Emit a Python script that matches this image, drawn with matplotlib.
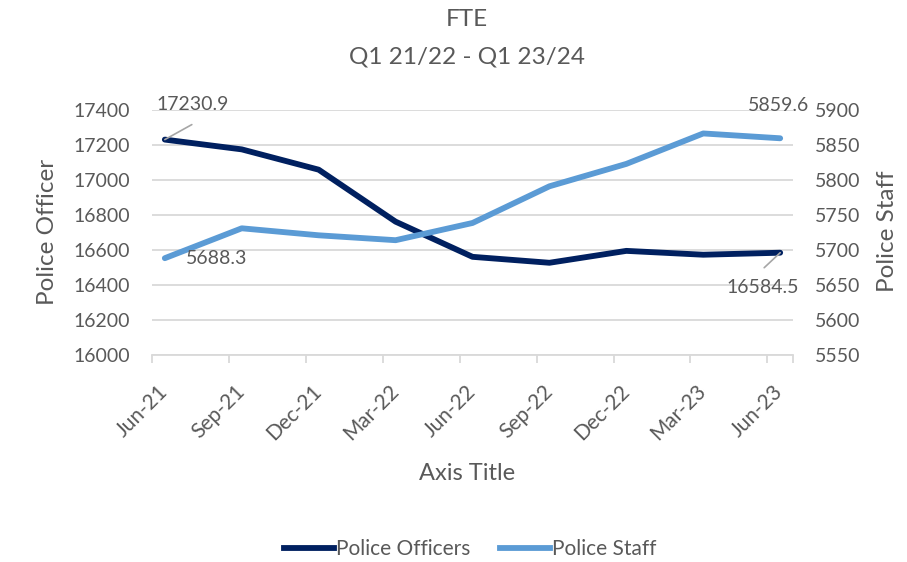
import matplotlib
matplotlib.use("Agg")
import matplotlib.pyplot as plt
from matplotlib.lines import Line2D

plt.rcParams['font.family'] = ['Lato', 'DejaVu Sans']

# Quarter-end FTE figures
quarters = ['Jun-21', 'Sep-21', 'Dec-21', 'Mar-22', 'Jun-22',
            'Sep-22', 'Dec-22', 'Mar-23', 'Jun-23']
months_from_start = [0, 3, 6, 9, 12, 15, 18, 21, 24]
officers = [17230.9, 17175, 17059, 16762, 16561, 16527, 16595, 16573, 16584.5]
staff = [5688.3, 5731, 5721, 5714, 5738.6, 5791, 5823, 5866.5, 5859.6]

left_ticks = [16000, 16200, 16400, 16600, 16800, 17000, 17200, 17400]
right_ticks = [5550, 5600, 5650, 5700, 5750, 5800, 5850, 5900]

OFFICER_COLOR = '#002060'
STAFF_COLOR = '#5B9BD5'
TEXT_COLOR = '#595959'
GRID_COLOR = '#D9D9D9'
FS = 14

W, H = 907, 562
fig = plt.figure(figsize=(W / 100, H / 100), dpi=100)
ax = fig.add_axes([152 / W, 1 - 355 / H, (793 - 152) / W, (355 - 110) / H])
ax2 = ax.twinx()

# monthly date axis: each point sits in the middle of its month slot
xpos = [m + 0.5 for m in months_from_start]

ax.plot(xpos, officers, color=OFFICER_COLOR, lw=4.2, solid_capstyle='round',
        solid_joinstyle='round', zorder=3)
ax2.plot(xpos, staff, color=STAFF_COLOR, lw=4.2, solid_capstyle='round',
         solid_joinstyle='round', zorder=3)

ax.set_xlim(0, 25)
ax.set_ylim(left_ticks[0], left_ticks[-1])
ax2.set_ylim(right_ticks[0], right_ticks[-1])

ax.set_yticks(left_ticks)
ax2.set_yticks(right_ticks)
ax.yaxis.grid(True, color=GRID_COLOR, lw=1.3)
ax.set_axisbelow(True)

for s in ['left', 'right', 'top']:
    ax.spines[s].set_visible(False)
for s in ax2.spines.values():
    s.set_visible(False)
ax.spines['bottom'].set_color(GRID_COLOR)
ax.spines['bottom'].set_linewidth(1.3)

ax.set_xticks(xpos, quarters, rotation=45, ha='right', va='center',
              rotation_mode='anchor')
ax.set_xticks(months_from_start + [25], minor=True)
ax.tick_params(axis='x', which='major', length=0, pad=24, labelsize=15,
               labelcolor=TEXT_COLOR)
ax.tick_params(axis='x', which='minor', length=6, width=1.3, color=GRID_COLOR)
ax.tick_params(axis='y', length=0, pad=16, labelsize=FS, labelcolor=TEXT_COLOR)
ax2.tick_params(axis='y', length=0, pad=16, labelsize=FS, labelcolor=TEXT_COLOR)

# data labels on first and last points
lead = dict(arrowstyle='-', color='#A6A6A6', lw=1.2, shrinkA=0, shrinkB=0)
ax.annotate('', xy=(xpos[0], officers[0]), xytext=(27, 15),
            textcoords='offset pixels', arrowprops=lead)
ax.annotate(f'{officers[0]:.1f}', xy=(xpos[0], officers[0]), xytext=(28, 35),
            textcoords='offset pixels', ha='center', va='center',
            fontsize=FS, color=TEXT_COLOR)
ax.annotate('', xy=(xpos[-1], officers[-1]), xytext=(-16, -15),
            textcoords='offset pixels', arrowprops=lead)
ax.annotate(f'{officers[-1]:.1f}', xy=(xpos[-1], officers[-1]), xytext=(-17, -35),
            textcoords='offset pixels', ha='center', va='center',
            fontsize=FS, color=TEXT_COLOR)
ax2.annotate(f'{staff[0]:.1f}', xy=(xpos[0], staff[0]), xytext=(21, 0),
             textcoords='offset pixels', ha='left', va='center',
             fontsize=FS, color=TEXT_COLOR)
ax2.annotate(f'{staff[-1]:.1f}', xy=(xpos[-1], staff[-1]), xytext=(-2, 33),
             textcoords='offset pixels', ha='center', va='center',
             fontsize=FS, color=TEXT_COLOR)

# titles
fig.text(467 / W, 1 - 20 / H, 'FTE', ha='center', va='center',
         fontsize=17.5, color=TEXT_COLOR)
fig.text(467 / W, 1 - 57 / H, 'Q1 21/22 - Q1 23/24', ha='center', va='center',
         fontsize=17.5, color=TEXT_COLOR)
fig.text(48 / W, 1 - 232 / H, 'Police Officer', rotation=90, ha='center',
         va='center', fontsize=17.5, color=TEXT_COLOR)
fig.text(887 / W, 1 - 231 / H, 'Police Staff', rotation=90, ha='center',
         va='center', fontsize=17.5, color=TEXT_COLOR)
fig.text(467 / W, 1 - 473 / H, 'Axis Title', ha='center', va='center',
         fontsize=17, color=TEXT_COLOR)

handles = [Line2D([], [], color=OFFICER_COLOR, lw=4.2),
           Line2D([], [], color=STAFF_COLOR, lw=4.2)]
fig.legend(handles, ['Police Officers', 'Police Staff'], loc='center',
           bbox_to_anchor=(470 / W, 1 - 549 / H), ncol=2, frameon=False,
           fontsize=15, labelcolor=TEXT_COLOR, handlelength=2.4,
           handletextpad=0.12, columnspacing=1.4)

fig.savefig('out.png', dpi=100)
